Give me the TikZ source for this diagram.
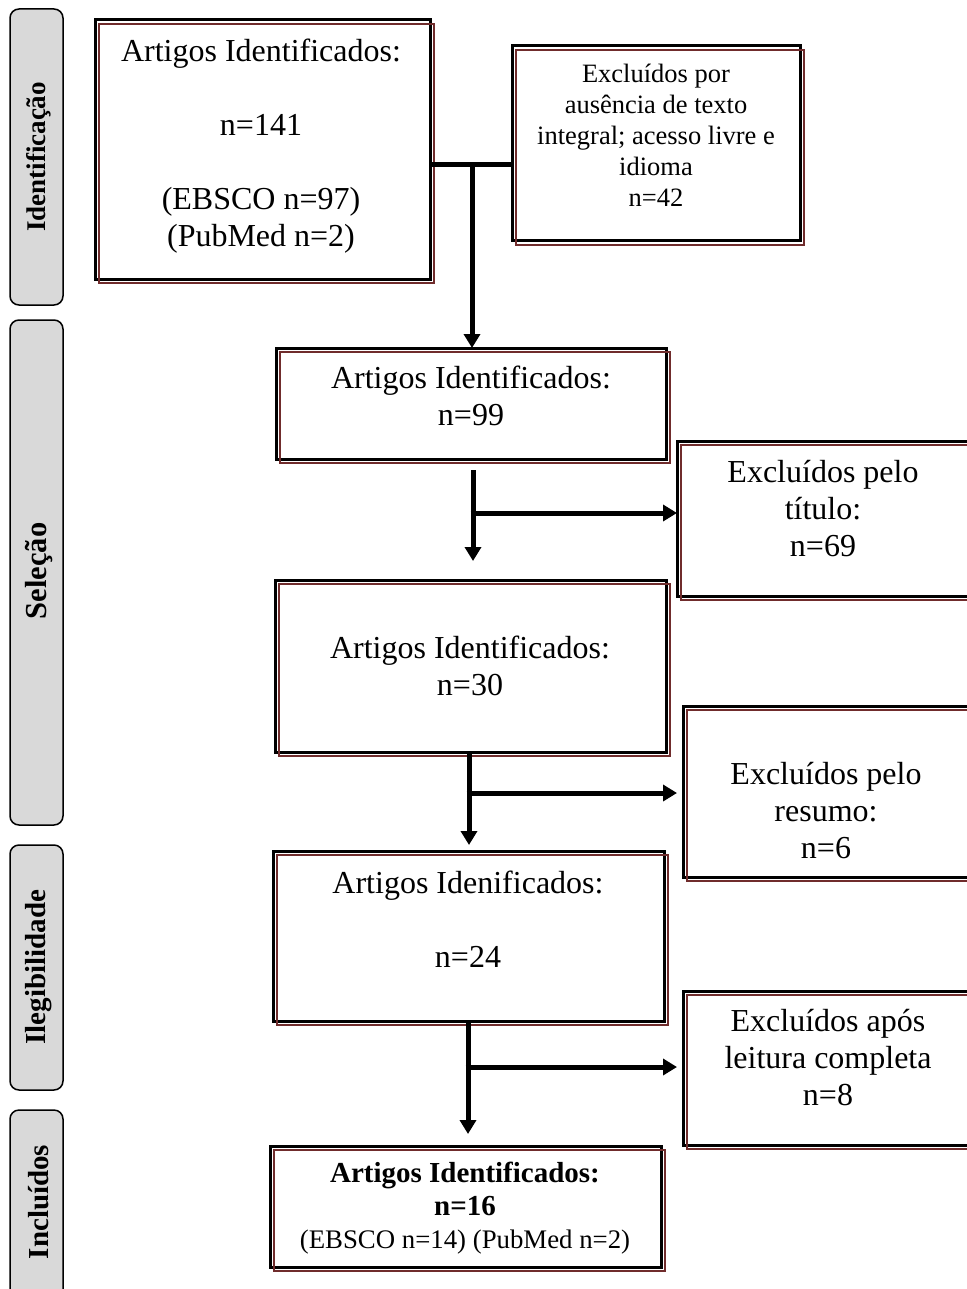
\documentclass[tikz,border=0pt]{standalone}
\usepackage{fontspec}
\setmainfont{Liberation Serif}
\usetikzlibrary{arrows.meta}
\definecolor{shadowred}{RGB}{112,44,44}
\definecolor{sidegray}{RGB}{217,217,217}
\tikzset{
  x=1pt, y=-1pt,
  flowbox/.style={draw=black, line width=3pt, inner sep=0pt, outer sep=0pt},
  redframe/.style={draw=shadowred, line width=2.3pt},
  maintext/.style={align=center, font=\fontsize{32}{37}\selectfont, inner sep=0pt},
  smalltext/.style={align=center, font=\fontsize{26.5}{31}\selectfont, inner sep=0pt},
  finaltext/.style={align=center, font=\fontsize{29}{33}\selectfont, inner sep=0pt},
  sidebox/.style={draw=black, line width=1.5pt, fill=sidegray, rounded corners=9pt, inner sep=0pt},
  sidetext/.style={rotate=90, font=\bfseries, inner sep=0pt},
  conn/.style={line width=5pt},
  arr/.style={line width=5pt, -{Triangle[width=16pt,length=14pt]}}
}
\begin{document}
\begin{tikzpicture}
\useasboundingbox (0,0) rectangle (966,1289);

% side labels
\node[sidebox, minimum width=53pt, minimum height=296pt] (s1) at (36.5,157) {};
\node[sidetext] (t1) at (39,157) {\fontsize{27}{30}\selectfont Identificação};
\node[sidebox, minimum width=53pt, minimum height=505pt] (s2) at (36.5,572.5) {};
\node[sidetext] (t2) at (39,571) {\fontsize{30.5}{33}\selectfont Seleção};
\node[sidebox, minimum width=53pt, minimum height=245pt] (s3) at (36.5,967.5) {};
\node[sidetext] (t3) at (39,967) {\fontsize{29}{32}\selectfont Ilegibilidade};
\node[sidebox, minimum width=53pt, minimum height=220pt] (s4) at (36.5,1220) {};
\node[sidetext] (t4) at (39,1202) {\fontsize{29}{32}\selectfont Incluídos};

% boxes
\node[flowbox, minimum width=335pt, minimum height=259pt] (b1) at (262.5,149.5) {};
\node[flowbox, minimum width=288pt, minimum height=195pt] (b2) at (656,143.5) {};
\node[flowbox, minimum width=390pt, minimum height=111pt] (b3) at (471,403.5) {};
\node[flowbox, minimum width=293pt, minimum height=155pt] (b4) at (823.5,518.5) {};
\node[flowbox, minimum width=391pt, minimum height=172pt] (b5) at (470.5,666) {};
\node[flowbox, minimum width=287pt, minimum height=171pt] (b6) at (826.5,791.5) {};
\node[flowbox, minimum width=391pt, minimum height=170pt] (b7) at (468.5,936) {};
\node[flowbox, minimum width=287pt, minimum height=154pt] (b8) at (826.5,1068) {};
\node[flowbox, minimum width=391pt, minimum height=121pt] (b9) at (465.5,1206.5) {};

\foreach \b in {b1,b2,b3,b4,b5,b6,b7,b8,b9}{
  \draw[redframe] ([shift={(4,4)}]\b.north west) rectangle ([shift={(4,4)}]\b.south east);
}

% texts
\node[maintext] (x1) at (261,146) {Artigos Identificados:\\[37pt] n=141\\[37pt] (EBSCO n=97)\\ (PubMed n=2)};
\node[smalltext] (x2) at (656,135) {Excluídos por\\ ausência de texto\\ integral; acesso livre e\\ idioma\\ n=42};
\node[maintext] (x3) at (471,396) {Artigos Identificados:\\ n=99};
\node[maintext] (x4) at (823,509) {Excluídos pelo\\ título:\\ n=69};
\node[maintext] (x5) at (470,666) {Artigos Identificados:\\ n=30};
\node[maintext] (x6) at (826,811) {Excluídos pelo\\ resumo:\\ n=6};
\node[maintext] (x7) at (468,919) {Artigos Idenificados:\\[37pt] n=24};
\node[maintext] (x8) at (828,1058) {Excluídos após\\ leitura completa\\ n=8};
\node[finaltext] (x9) at (465,1208) {\textbf{Artigos Identificados:}\\ \textbf{n=16}\\ {\fontsize{26.8}{33}\selectfont (EBSCO n=14) (PubMed n=2)}};

% connectors
\coordinate (j1) at (472,165);
\draw[conn] (b1.east |- j1) -- (b2.west |- j1);
\draw[arr] (j1) -- (j1 |- b3.north);

\coordinate (j2) at (473,470);
\coordinate (j2m) at (473,513);
\draw[arr] (j2) -- (473,561);
\draw[arr] ([xshift=-2.5pt]j2m) -- (j2m -| b4.west);

\coordinate (j3) at (469,793);
\draw[arr] (b5.south -| j3) -- (469,845);
\draw[arr] ([xshift=-2.5pt]j3) -- (677,793);

\coordinate (j4) at (468,1067);
\draw[arr] (b7.south -| j4) -- (468,1134);
\draw[arr] ([xshift=-2.5pt]j4) -- (677,1067);
\end{tikzpicture}
\end{document}
